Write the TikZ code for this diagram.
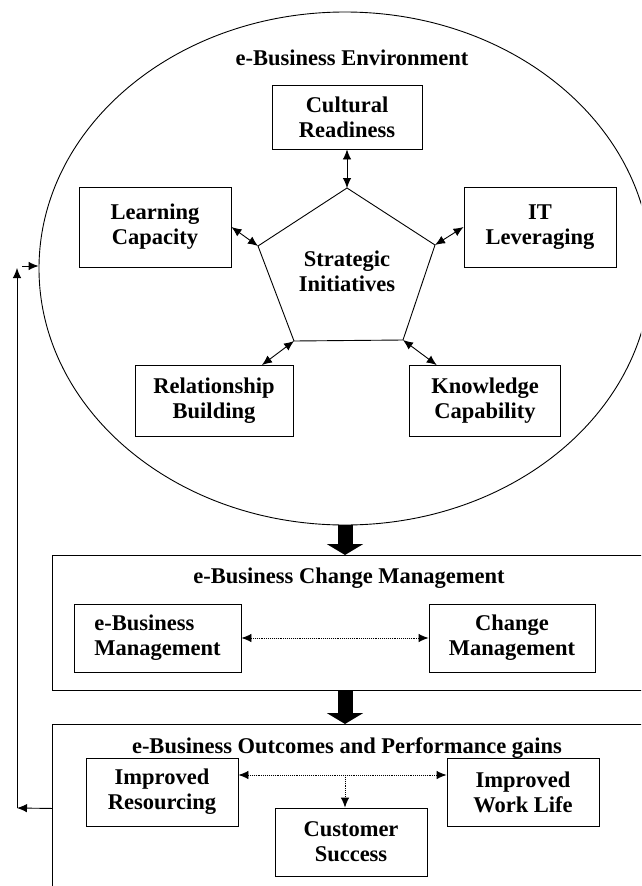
\documentclass[tikz,border=0pt]{standalone}
\usepackage{fontspec}
\setmainfont{Liberation Serif}
\usepackage{tikz}
\usetikzlibrary{positioning,shapes.geometric,arrows.meta}
\tikzset{x=1pt, y=-1pt, >={Latex[length=10pt,width=8.5pt]},
         every node/.style={font=\bfseries\fontsize{22.5}{25}\selectfont, align=center},
         box/.style={draw, inner sep=0pt},
         bigarrow/.style={line width=15pt, -{Triangle[length=11pt,width=36pt]}}}

\begin{document}
\begin{tikzpicture}[line width=0.9pt]

             \useasboundingbox (0,0) rectangle (641,886);
             \clip (0,0) rectangle (641,886);

             \node (Env) [draw, ellipse, inner sep=0pt, minimum width=612pt, minimum height=513pt] at (345,268.5) {};
             \node (EnvT) at (352,58) {e-Business Environment};

             \node (CR) [box, minimum width=150pt, minimum height=64pt] at (347,117) {Cultural\\Readiness};
             \node (LC) [box, minimum width=152pt, minimum height=80pt] at (155,227) {Learning\\Capacity};
             \node (ITL) [box, minimum width=152pt, minimum height=80pt] at (540,227) {IT\\Leveraging};
             \node (RB) [box, minimum width=158pt, minimum height=71pt] at (214,401) {Relationship\\Building};
             \node (KC) [box, minimum width=151pt, minimum height=71pt] at (485,401) {Knowledge\\Capability};

             \coordinate (P1) at (347,188);
             \coordinate (P2) at (435,245);
             \coordinate (P3) at (403,340);
             \coordinate (P4) at (294,341);
             \coordinate (P5) at (258,246);
             \draw (P1) -- (P2) -- (P3) -- (P4) -- (P5) -- cycle;
             \node (SI) at (347,271) {Strategic\\Initiatives};

             \draw [<->] (CR) to (P1);
             \draw [<->] (LC.east) to (P5);
             \draw [<->] (ITL.west) to (P2);
             \draw [<->] (RB) to (P4);
             \draw [<->] (KC) to (P3);

             \node (Chg) [box, anchor=north west, minimum width=610pt, minimum height=135pt] at (52,555) {};
             \node (ChgT) at (349,578) {e-Business Change Management};
             \node (EM) [box, align=left, minimum width=167pt, minimum height=68pt] at (157.5,638) {e-Business\\Management};
             \node (CM) [box, minimum width=166pt, minimum height=68pt] at (512,638) {Change\\Management};

             \draw [<->, densely dotted] (EM) to (CM);

             \node (Out) [box, anchor=north west, minimum width=610pt, minimum height=168pt] at (52,724) {};
             \node (OutT) at (347,748) {e-Business Outcomes and Performance gains};
             \node (IR) [box, minimum width=152pt, minimum height=68pt] at (162,792) {Improved\\Resourcing};
             \node (IW) [box, minimum width=152pt, minimum height=68pt] at (523,792) {Improved\\Work Life};
             \node (CS) [box, minimum width=152pt, minimum height=68pt] at (351,842) {Customer\\Success};

             \coordinate (J) at (345,775);
             \draw [<->, densely dotted] ([yshift=17pt]IR.east) to ([yshift=17pt]IW.west);
             \draw [->, densely dotted] (J) to (J |- CS.north);

             \draw [bigarrow] (Env.south) to (Env.south |- Chg.north);
             \draw [bigarrow] (Env.south |- Chg.south) to (Env.south |- Out.north);

             \coordinate (FB) at (17,808);
             \coordinate (FBt) at (17,268);
             \coordinate (FBr) at (22,266);
             \draw [->] (Out.west) to (FB);
             \draw [->] (FB) to (FBt);
             \draw [->] (FBr) to (FBr -| Env.west);

\end{tikzpicture}
\end{document}
